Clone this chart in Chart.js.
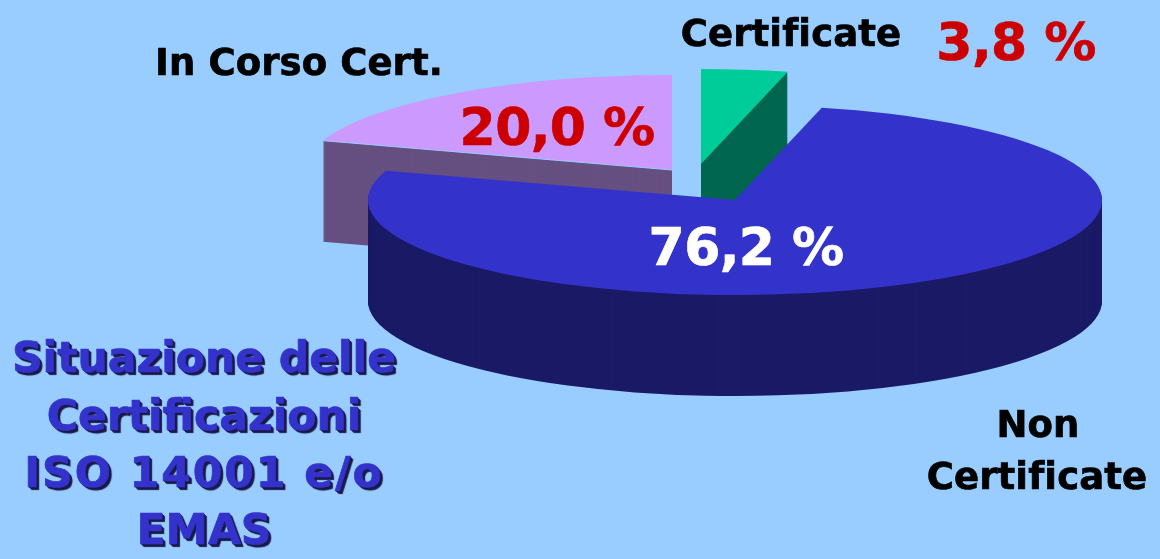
<!DOCTYPE html>
<html><head><meta charset="utf-8">
<script src="https://cdn.jsdelivr.net/npm/chart.js@4"></script>
<style>
html,body{margin:0;padding:0;background:#99CCFF;width:1160px;height:559px;overflow:hidden}
#wrap{position:relative;width:1160px;height:559px}
canvas{position:absolute;left:0;top:0}
.t{position:absolute;white-space:nowrap;font-family:"DejaVu Sans",sans-serif;font-weight:700;transform:translate(-50%,-50%);line-height:1;-webkit-text-stroke:0.7px currentColor}
.name{color:#000;font-size:37px;letter-spacing:0.1px}
.val{font-size:52px;letter-spacing:-0.6px}
.title{color:#3333CC;font-size:42.5px;letter-spacing:0.1px;text-shadow:1px 1px 0 #1a1a4a,2px 2px 0 #1a1a4a,3px 3px 1px #1a1a4a}
</style></head>
<body><div id="wrap"><canvas id="c" width="1160" height="559"></canvas></div>
<script>
const categories = ["Certificate", "Non Certificate", "In Corso Cert."];
const values = [3.8, 76.2, 20.0];
const valueLabels = ["3,8 %", "76,2 %", "20,0 %"];
const titleLines = ["Situazione delle", "Certificazioni", "ISO 14001 e/o", "EMAS"];
const topColors = ["#00CC99", "#3333CC", "#CC99FF"];
const sideColors = ["#006650", "#1A1A66", "#665080"];
const valueColors = ["#CC0000", "#FFFFFF", "#CC0000"];

// Projection of the flat pie to a tilted disc, one apex per slice
const RX = 367, RY = 95, DEPTH = 101;
const apexes = [[701,164],[735,200],[672,170]];
const drawOrder = [0,2,1];

const tilt3d = {
  id:'tilt3d',
  beforeDatasetsDraw(chart){
    const ctx = chart.ctx, arcs = chart.getDatasetMeta(0).data;
    const place = (i,d)=>{
      const a = arcs[i];
      ctx.translate(apexes[i][0], apexes[i][1]+d);
      ctx.scale(RX/a.outerRadius, RY/a.outerRadius);
      ctx.translate(-a.x,-a.y);
    };
    for(const i of drawOrder){
      const a = arcs[i], base = a.options;
      a.options = Object.assign({}, base, {backgroundColor:sideColors[i], borderWidth:0});
      for(let d=DEPTH;d>0;d--){ ctx.save(); place(i,d); a.draw(ctx); ctx.restore(); }
      a.options = base;
      ctx.save(); place(i,0); a.draw(ctx); ctx.restore();
      if(i===2){ // hairline where the lilac top meets its cut face
        ctx.save(); place(i,0);
        ctx.beginPath();
        ctx.moveTo(a.x,a.y);
        ctx.lineTo(a.x+a.outerRadius*Math.cos(a.startAngle), a.y+a.outerRadius*Math.sin(a.startAngle));
        ctx.restore();
        ctx.strokeStyle='#99CCFF'; ctx.lineWidth=1; ctx.stroke();
      }
    }
    return false;
  }
};

new Chart(document.getElementById('c'),{
  type:'pie',
  data:{labels:categories,datasets:[{data:values,backgroundColor:topColors,borderWidth:0}]},
  options:{responsive:false,animation:false,rotation:0,layout:{padding:0},
    plugins:{legend:{display:false},tooltip:{enabled:false},title:{display:false}}},
  plugins:[tilt3d]
});

const wrap = document.getElementById('wrap');
function put(text,x,y,cls,color,spacing){
  const e=document.createElement('div');
  e.className='t '+cls; e.textContent=text;
  e.style.left=x+'px'; e.style.top=y+'px';
  if(color) e.style.color=color;
  if(spacing!==undefined) e.style.letterSpacing=spacing+'px';
  wrap.appendChild(e);
  return e;
}
put(categories[0],791,33,'name');
put(categories[2],299,62,'name');
put("Non",1038,424,'name');
put("Certificate",1037,476,'name');
put(valueLabels[0],1016,42,'val',valueColors[0]);
put(valueLabels[2],557,127,'val',valueColors[2]);
put(valueLabels[1],746,247,'val',valueColors[1]);
const ty=[358,416,473,530], tx=[204,204,204,204], tsp=[0,0,2,0];
titleLines.forEach((l,i)=>put(l,tx[i],ty[i],'title',null,tsp[i]));
</script></body></html>
